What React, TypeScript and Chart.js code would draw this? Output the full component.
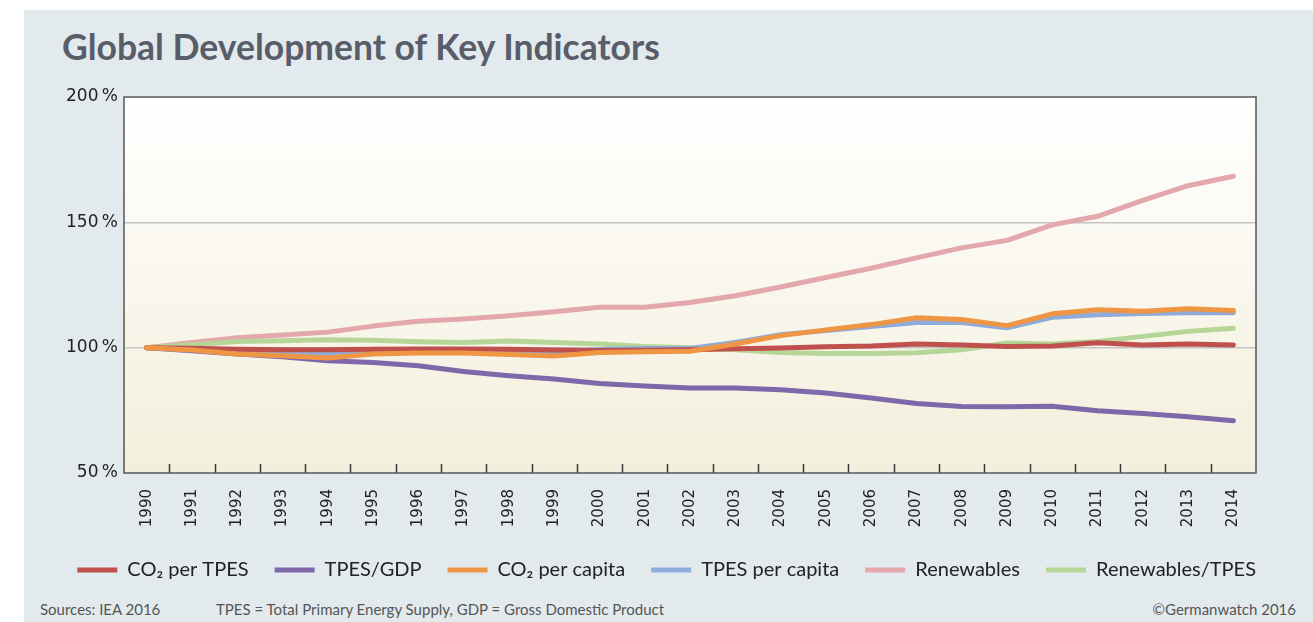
import React, { useEffect, useRef } from "react";
import { Chart, registerables } from "chart.js";

Chart.register(...registerables);

const years = [
  "1990", "1991", "1992", "1993", "1994", "1995", "1996", "1997", "1998", "1999",
  "2000", "2001", "2002", "2003", "2004", "2005", "2006", "2007", "2008", "2009",
  "2010", "2011", "2012", "2013", "2014",
];

const co2PerTpes = [100, 99.8, 99.4, 99.2, 99.2, 99.4, 99.5, 99.5, 99.4, 99.1, 98.9, 99.0, 99.2, 99.6, 99.9, 100.4, 100.7, 101.5, 101.1, 100.5, 100.7, 102.0, 101.1, 101.5, 101.1];
const tpesGdp = [100, 98.8, 97.5, 96.4, 94.8, 94.1, 92.8, 90.5, 88.8, 87.5, 85.7, 84.7, 83.9, 83.9, 83.2, 81.9, 79.9, 77.7, 76.5, 76.4, 76.6, 74.8, 73.7, 72.4, 70.8];
const co2PerCapita = [100, 99.1, 97.5, 96.8, 95.9, 97.5, 97.9, 97.9, 97.3, 96.7, 98.1, 98.4, 98.6, 101.5, 104.8, 107.1, 109.2, 111.9, 111.2, 108.8, 113.5, 115.1, 114.5, 115.5, 114.8];
const tpesPerCapita = [100, 99.3, 98.4, 97.8, 97.6, 98.3, 98.6, 98.6, 98.2, 97.9, 99.3, 99.7, 99.7, 102.1, 105.2, 106.8, 108.4, 110.0, 110.0, 107.9, 112.1, 113.1, 113.6, 113.9, 113.9];
const renewables = [100, 102.1, 104.0, 105.1, 106.2, 108.6, 110.5, 111.4, 112.7, 114.3, 116.1, 116.1, 118.0, 120.7, 124.2, 128.0, 131.7, 135.8, 139.8, 142.8, 149.0, 152.4, 158.8, 164.6, 168.4];
const renewablesTpes = [100, 101.2, 102.5, 102.8, 103.2, 103.0, 102.4, 102.1, 102.7, 102.1, 101.5, 100.5, 100.0, 99.2, 98.1, 97.7, 97.7, 98.0, 99.2, 101.9, 101.5, 102.5, 104.5, 106.5, 107.7];

const seriesLabels = ["CO\u2082 per TPES", "TPES/GDP", "CO\u2082 per capita", "TPES per capita", "Renewables", "Renewables/TPES"];
const seriesColors = ["#c0504d", "#7f68a9", "#ef9644", "#8fabda", "#e3a7ac", "#b5d697"];
const seriesOrder = [1, 5, 0, 2, 4, 3];
const seriesData = [co2PerTpes, tpesGdp, co2PerCapita, tpesPerCapita, renewables, renewablesTpes];

const yTicks = [50, 100, 150, 200];

const plotDecor = {
  id: "plotDecor",
  beforeDraw(chart: any) {
    const { ctx, chartArea } = chart;
    const g = ctx.createLinearGradient(0, chartArea.top, 0, chartArea.bottom);
    g.addColorStop(0, "#ffffff");
    g.addColorStop(1, "#f3efdc");
    ctx.save();
    ctx.fillStyle = g;
    ctx.fillRect(chartArea.left, chartArea.top, chartArea.right - chartArea.left, chartArea.bottom - chartArea.top);
    ctx.restore();
  },
  afterDraw(chart: any) {
    const { ctx, chartArea } = chart;
    const xs = chart.scales.x;
    ctx.save();
    ctx.strokeStyle = "#3a3a3a";
    ctx.lineWidth = 1.5;
    for (let i = 0; i < years.length - 1; i++) {
      const x = Math.round((xs.getPixelForTick(i) + xs.getPixelForTick(i + 1)) / 2) + 0.5;
      ctx.beginPath();
      ctx.moveTo(x, chartArea.bottom);
      ctx.lineTo(x, chartArea.bottom - 9);
      ctx.stroke();
    }
    ctx.strokeStyle = "#555";
    ctx.lineWidth = 1.5;
    ctx.strokeRect(chartArea.left, chartArea.top, chartArea.right - chartArea.left, chartArea.bottom - chartArea.top);
    ctx.restore();
  },
};

function App() {
  const ref = useRef<HTMLCanvasElement | null>(null);
  useEffect(() => {
    if (!ref.current) return;
    const chart = new Chart(ref.current, {
      type: "line",
      data: {
        labels: years,
        datasets: seriesData.map((d, i) => ({
          label: seriesLabels[i],
          data: d,
          borderColor: seriesColors[i],
          backgroundColor: seriesColors[i],
          borderWidth: 5,
          pointRadius: 0,
          tension: 0,
          borderCapStyle: "round",
          borderJoinStyle: "round",
          order: seriesOrder[i],
        })),
      },
      options: {
        animation: false,
        responsive: false,
        maintainAspectRatio: false,
        layout: { padding: { top: 17, right: 31, left: 0, bottom: 10 } },
        plugins: {
          tooltip: { enabled: false },
          legend: {
            position: "bottom",
            align: "end",
            labels: {
              boxWidth: 40,
              boxHeight: 5,
              padding: 26,
              color: "#222",
              font: { family: "Lato", size: 20 },
              generateLabels: (c: any) =>
                c.data.datasets.map((ds: any, i: number) => ({
                  text: ds.label,
                  fillStyle: ds.borderColor,
                  strokeStyle: ds.borderColor,
                  lineWidth: 0,
                  hidden: false,
                  datasetIndex: i,
                  fontColor: "#222",
                })),
            },
          },
        },
        scales: {
          x: {
            offset: true,
            grid: { display: false },
            border: { display: false },
            ticks: {
              autoSkip: false,
              minRotation: 90,
              maxRotation: 90,
              padding: 8,
              color: "#222",
              font: { family: "DejaVu Sans", size: 15 },
            },
            afterFit: (s: any) => {
              s.height = 61;
            },
          },
          y: {
            min: 50,
            max: 200,
            afterBuildTicks: (s: any) => {
              s.ticks = yTicks.map((v) => ({ value: v }));
            },
            grid: {
              drawTicks: false,
              lineWidth: 1.5,
              color: (c: any) => (c.tick && (c.tick.value === 100 || c.tick.value === 150) ? "#c4c4c4" : "rgba(0,0,0,0)"),
            },
            border: { display: false },
            ticks: {
              padding: 6,
              color: "#222",
              font: { family: "DejaVu Sans", size: 17 },
              callback: (v: any) => v + "\u2009%",
            },
            afterFit: (s: any) => {
              s.width = 124;
            },
          },
          spacer: {
            type: "linear",
            position: "right",
            display: true,
            grid: { display: false },
            border: { display: false },
            ticks: { display: false },
            afterFit: (s: any) => {
              s.width = 26;
            },
          },
        },
      },
      plugins: [plotDecor],
    } as any);
    return () => chart.destroy();
  }, []);

  return (
    <div style={{ position: "absolute", left: 0, top: 0, width: 1313, height: 622, background: "#ffffff", overflow: "hidden" }}>
      <div style={{ position: "absolute", left: 24, top: 10, width: 1289, height: 612, background: "#e3eaee" }} />
      <div
        style={{
          position: "absolute",
          left: 62,
          top: 25,
          fontFamily: "Lato, sans-serif",
          fontWeight: 700,
          fontSize: 35.5,
          lineHeight: "43px",
          color: "#585d69",
          whiteSpace: "nowrap",
        }}
      >
        Global Development of Key Indicators
      </div>
      <canvas ref={ref} width={1313} height={520} style={{ position: "absolute", left: 0, top: 80, width: 1313, height: 520 }} />
      <div style={{ position: "absolute", left: 40, top: 600, fontFamily: "Lato, sans-serif", fontSize: 15, color: "#555", whiteSpace: "nowrap" }}>
        Sources: IEA 2016
      </div>
      <div style={{ position: "absolute", left: 216, top: 600, fontFamily: "Lato, sans-serif", fontSize: 15, color: "#555", whiteSpace: "nowrap" }}>
        TPES = Total Primary Energy Supply, GDP = Gross Domestic Product
      </div>
      <div style={{ position: "absolute", right: 17, top: 600, fontFamily: "Lato, sans-serif", fontSize: 15, color: "#555", whiteSpace: "nowrap" }}>
        ©Germanwatch 2016
      </div>
    </div>
  );
}

export default App;
